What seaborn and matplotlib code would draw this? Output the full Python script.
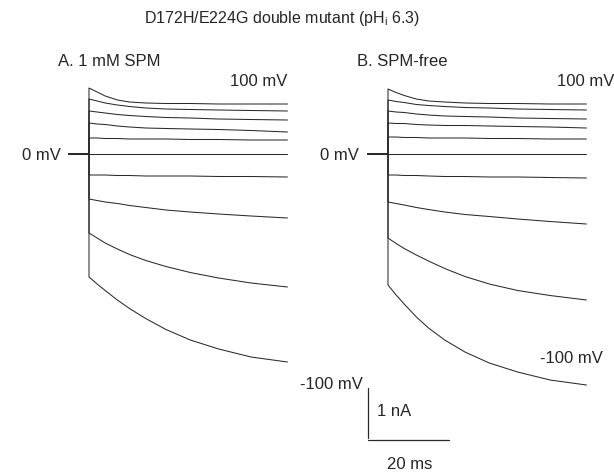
import pandas as pd
import matplotlib
matplotlib.use('Agg')
import matplotlib.pyplot as plt
import seaborn as sns

# 데이터 (그림에서 읽은 값: 시간 ms, 전류 nA)
times = [0, 2, 4, 7, 10, 14, 19, 25, 32, 40, 49]
voltages = [100, 80, 60, 40, 20, 0, -20, -40, -60, -100]

spm_traces = [
    [1.32, 1.24, 1.16, 1.08, 1.04, 1.02, 1.01, 1.01, 1.00, 1.00, 1.00],
    [1.10, 1.06, 1.02, 0.98, 0.95, 0.92, 0.90, 0.89, 0.88, 0.87, 0.86],
    [0.86, 0.84, 0.82, 0.79, 0.77, 0.75, 0.73, 0.72, 0.70, 0.69, 0.68],
    [0.62, 0.60, 0.59, 0.56, 0.54, 0.52, 0.51, 0.50, 0.49, 0.47, 0.44],
    [0.32, 0.32, 0.31, 0.31, 0.30, 0.30, 0.30, 0.29, 0.29, 0.28, 0.28],
    [0.00, 0.00, 0.00, 0.00, 0.00, 0.00, 0.00, 0.00, 0.00, 0.00, 0.00],
    [-0.42, -0.42, -0.42, -0.43, -0.43, -0.44, -0.44, -0.44, -0.45, -0.45, -0.46],
    [-0.90, -0.93, -0.96, -0.99, -1.03, -1.07, -1.12, -1.16, -1.20, -1.24, -1.28],
    [-1.58, -1.68, -1.78, -1.90, -2.01, -2.13, -2.25, -2.37, -2.48, -2.58, -2.66],
    [-2.46, -2.60, -2.73, -2.92, -3.09, -3.29, -3.51, -3.72, -3.90, -4.06, -4.16],
]

free_traces = [
    [1.30, 1.23, 1.17, 1.10, 1.06, 1.04, 1.02, 1.01, 1.01, 1.00, 1.00],
    [1.08, 1.05, 1.03, 0.99, 0.97, 0.95, 0.93, 0.92, 0.90, 0.89, 0.88],
    [0.86, 0.84, 0.83, 0.80, 0.78, 0.76, 0.75, 0.74, 0.72, 0.71, 0.70],
    [0.62, 0.61, 0.61, 0.59, 0.58, 0.57, 0.57, 0.56, 0.55, 0.54, 0.52],
    [0.34, 0.34, 0.33, 0.33, 0.32, 0.32, 0.32, 0.31, 0.31, 0.30, 0.30],
    [0.00, 0.00, 0.00, 0.00, 0.00, 0.00, 0.00, 0.00, 0.00, 0.00, 0.00],
    [-0.42, -0.42, -0.43, -0.43, -0.44, -0.45, -0.45, -0.46, -0.46, -0.47, -0.48],
    [-0.96, -0.99, -1.02, -1.07, -1.11, -1.16, -1.21, -1.25, -1.30, -1.35, -1.40],
    [-1.68, -1.79, -1.89, -2.02, -2.14, -2.29, -2.45, -2.60, -2.73, -2.83, -2.92],
    [-2.62, -2.82, -3.00, -3.26, -3.48, -3.72, -3.96, -4.18, -4.36, -4.52, -4.62],
]

holding_time = -5      # 0 mV 기준선 시작 (ms)
scale_nA = 1
scale_ms = 20


def make_df(traces):
    rows = []
    for v, cur in zip(voltages, traces):
        # 기준선 -> 스텝 순간 점프 -> 트레이스
        rows.append((v, holding_time, 0.0))
        rows.append((v, 0, 0.0))
        for t, c in zip(times, cur):
            rows.append((v, t, c))
    return pd.DataFrame(rows, columns=['voltage', 'time', 'current'])


sns.set_style('white')
plt.rcParams['font.family'] = ['Liberation Sans', 'DejaVu Sans']
plt.rcParams['mathtext.fontset'] = 'custom'
plt.rcParams['mathtext.rm'] = 'Liberation Sans'
plt.rcParams['mathtext.it'] = 'Liberation Sans'

W, H = 614, 473
fig = plt.figure(figsize=(W / 100, H / 100), dpi=100)

px_ms = 4.05
px_nA = 50
zero_y = 154
xlim = (-6, 52)
ylim = (-5.9, 1.8)


def add_panel(x0):
    left = x0 + xlim[0] * px_ms
    bottom = H - (zero_y - ylim[0] * px_nA)
    ax = fig.add_axes([left / W, bottom / H,
                       (xlim[1] - xlim[0]) * px_ms / W,
                       (ylim[1] - ylim[0]) * px_nA / H])
    ax.set_xlim(*xlim)
    ax.set_ylim(*ylim)
    ax.axis('off')
    return ax


def ftext(x, y, s, **kw):
    fig.text(x / W, 1 - y / H, s, va='center', **kw)


ax_a = add_panel(89)
ax_b = add_panel(388)

for ax, tr in [(ax_a, spm_traces), (ax_b, free_traces)]:
    sns.lineplot(data=make_df(tr), x='time', y='current', units='voltage',
                 estimator=None, sort=False, color='#2a2a2a', lw=0.75,
                 ax=ax, legend=False)
    ax.axis('off')

# 스케일 바
sb_x = -4.9
sb_top = -4.68
ax_b.plot([sb_x, sb_x], [sb_top, sb_top - scale_nA], color='#2a2a2a', lw=0.9,
          clip_on=False)
ax_b.plot([sb_x, sb_x + scale_ms], [sb_top - scale_nA - 0.04] * 2,
          color='#2a2a2a', lw=0.9, clip_on=False)

ftext(282, 19, r'D172H/E224G double mutant (pH$_\mathrm{i}$ 6.3)', fontsize=11.5,
      ha='center')
ftext(58, 62, 'A. 1 mM SPM', fontsize=12, ha='left')
ftext(357, 62, 'B. SPM-free', fontsize=12, ha='left')
ftext(287, 81, '100 mV', fontsize=12, ha='right')
ftext(614, 81, '100 mV', fontsize=12, ha='right')
ftext(22, 155, '0 mV', fontsize=12, ha='left')
ftext(320, 155, '0 mV', fontsize=12, ha='left')
ftext(300, 384, '-100 mV', fontsize=12, ha='left')
ftext(540, 358, '-100 mV', fontsize=12, ha='left')
ftext(377, 411, f'{scale_nA} nA', fontsize=12, ha='left')
ftext(410, 464, f'{scale_ms} ms', fontsize=12, ha='center')

fig.savefig('out.png', dpi=100)
